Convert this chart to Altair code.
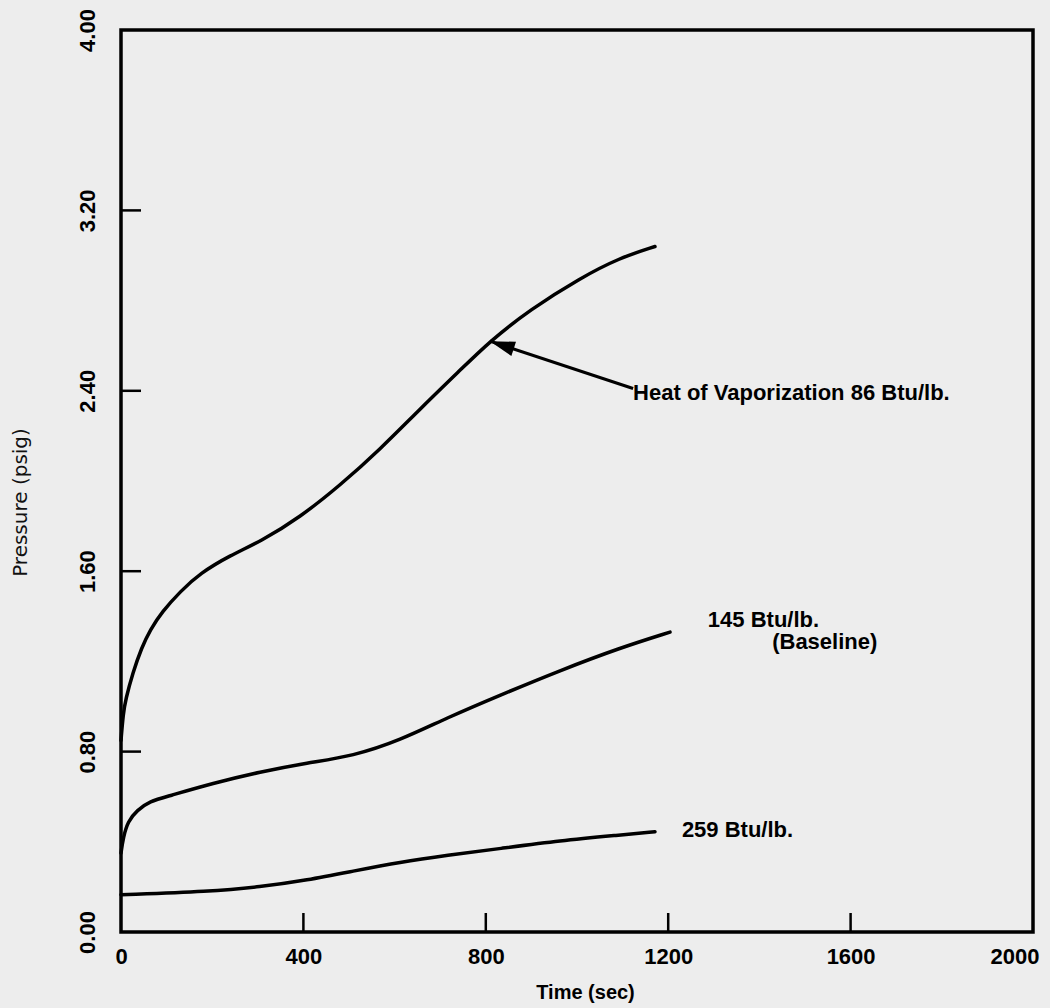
import altair as alt
import pandas as pd

# Pressure rise vs. time for three heats of vaporization
t_86 = [0, 5, 10, 26, 45, 64, 90, 130, 173, 239, 305, 393, 480, 568, 656, 743, 809, 897, 1007, 1094, 1171]
p_86 = [0.85, 0.97, 1.03, 1.15, 1.26, 1.34, 1.42, 1.51, 1.59, 1.67, 1.73, 1.84, 1.98, 2.14, 2.32, 2.49, 2.62, 2.76, 2.90, 2.99, 3.04]

t_145 = [0, 5, 15, 35, 64, 100, 202, 305, 408, 509, 612, 715, 831, 963, 1094, 1204]
p_145 = [0.35, 0.42, 0.49, 0.54, 0.58, 0.60, 0.66, 0.71, 0.75, 0.78, 0.85, 0.95, 1.05, 1.16, 1.26, 1.33]

t_259 = [0, 195, 305, 408, 509, 612, 715, 831, 963, 1094, 1171]
p_259 = [0.165, 0.18, 0.20, 0.23, 0.27, 0.31, 0.34, 0.37, 0.405, 0.43, 0.445]

x_ticks = [0, 400, 800, 1200, 1600, 2000]
y_ticks = [0.0, 0.8, 1.6, 2.4, 3.2, 4.0]

W, H = 912, 902
FONT = "Liberation Sans"

rows = []
for name, ts, ps in [("86", t_86, p_86), ("145", t_145, p_145), ("259", t_259, p_259)]:
    for t, p in zip(ts, ps):
        rows.append({"series": name, "t": t, "p": p})
df = pd.DataFrame(rows)

xs = alt.Scale(domain=[0, 2000], nice=False, zero=False)
ys = alt.Scale(domain=[0, 4], nice=False, zero=False)

x_axis = alt.Axis(values=x_ticks, format="d", domain=False, ticks=False, grid=False,
                  labelFont=FONT, labelFontSize=22, labelFontWeight="bold", labelColor="black",
                  labelPadding=14, labelFlush=True, labelFlushOffset=6,
                  title="Time (sec)", titleFont=FONT, titleFontSize=20, titleFontWeight="bold",
                  titleColor="black", titleX=464, titleY=60, titleBaseline="middle", titleAlign="center")
y_axis = alt.Axis(values=y_ticks, format=".2f", domain=False, ticks=False, grid=False,
                  labelFont=FONT, labelFontSize=22, labelFontWeight="bold", labelColor="black",
                  labelAngle=270, labelAlign="center", labelBaseline="bottom", labelPadding=22,
                  labelFlush=False,
                  title="Pressure (psig)", titleFont="DejaVu Sans", titleFontSize=20,
                  titleFontWeight="normal", titleColor="#111111", titleAngle=270,
                  titleX=-101, titleY=472, titleAlign="center", titleBaseline="middle")

curves = alt.Chart(df).mark_line(color="black", strokeWidth=3.5, interpolate="basis",
                                 strokeCap="round").encode(
    x=alt.X("t:Q", scale=xs, axis=x_axis),
    y=alt.Y("p:Q", scale=ys, axis=y_axis),
    detail="series:N",
)

# inward tick marks
xt = pd.DataFrame({"v": x_ticks[1:-1]})
x_tick_marks = alt.Chart(xt).mark_rule(color="black", strokeWidth=2.5).encode(
    x=alt.X("v:Q", scale=xs), y=alt.value(H), y2=alt.value(H - 19))
yt = pd.DataFrame({"v": y_ticks[1:-1]})
y_tick_marks = alt.Chart(yt).mark_rule(color="black", strokeWidth=2.5).encode(
    y=alt.Y("v:Q", scale=ys), x=alt.value(0), x2=alt.value(20))

# annotation arrow pointing at the 86 Btu/lb curve
arrow_df = pd.DataFrame({"t": [1123, 809], "p": [2.41, 2.62]})
arrow_line = alt.Chart(arrow_df).mark_line(color="black", strokeWidth=3).encode(
    x=alt.X("t:Q", scale=xs), y=alt.Y("p:Q", scale=ys))
head_df = pd.DataFrame({"t": [809], "p": [2.62]})
arrow_head = alt.Chart(head_df).mark_point(
    shape="M0,0L0.3,1L-0.3,1Z", filled=True, color="black", opacity=1,
    size=2500, angle=288).encode(x=alt.X("t:Q", scale=xs), y=alt.Y("p:Q", scale=ys))

labels_df = pd.DataFrame({
    "t": [1123, 1287, 1428, 1230],
    "p": [2.36, 1.351, 1.253, 0.422],
    "text": ["Heat of Vaporization 86 Btu/lb.", "145 Btu/lb.", "(Baseline)", "259 Btu/lb."],
})
labels = alt.Chart(labels_df).mark_text(
    align="left", baseline="alphabetic", font=FONT, fontSize=22, fontWeight="bold",
    color="black").encode(x=alt.X("t:Q", scale=xs), y=alt.Y("p:Q", scale=ys), text="text:N")

chart = alt.layer(curves, x_tick_marks, y_tick_marks, arrow_line, arrow_head, labels).properties(
    width=W, height=H,
    background="#ededed",
    autosize=alt.AutoSizeParams(type="none"),
    padding={"left": 121, "top": 30, "right": 17, "bottom": 76},
).configure_view(stroke="black", strokeWidth=3.5, fill=None)

chart.save("out.html", embed_options={"renderer": "svg", "actions": False})
